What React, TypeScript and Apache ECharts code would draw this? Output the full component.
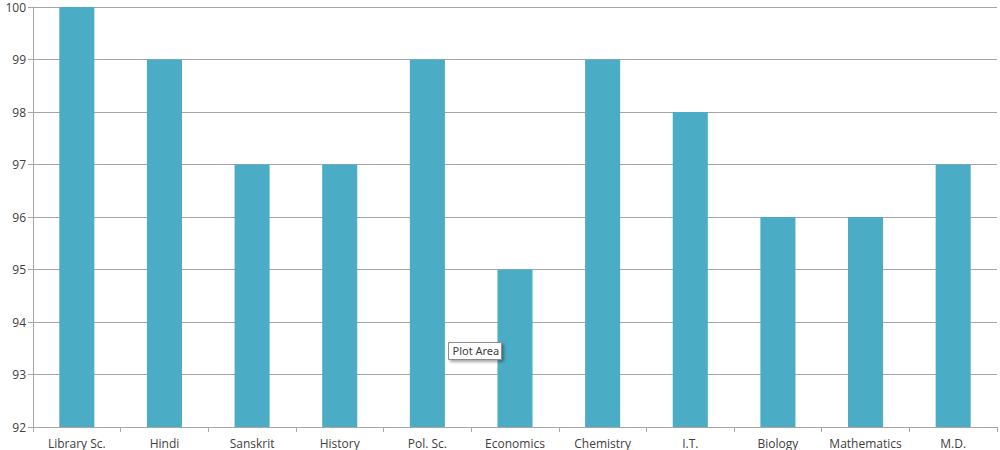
import React, { useEffect, useRef } from "react";
import * as echarts from "echarts";

const categories = ["Library Sc.", "Hindi", "Sanskrit", "History", "Pol. Sc.", "Economics", "Chemistry", "I.T.", "Biology", "Mathematics", "M.D."];
const values = [100, 99, 97, 97, 99, 95, 99, 98, 96, 96, 97];
const yMin = 92;
const yMax = 100;

export default function App() {
  const ref = useRef<HTMLDivElement>(null);
  useEffect(() => {
    if (!ref.current) return;
    const chart = echarts.init(ref.current, null, { renderer: "svg" });
    chart.setOption({
      animation: false,
      backgroundColor: "#ffffff",
      grid: { left: 33, right: 3, top: 7, bottom: 23, containLabel: false },
      xAxis: {
        type: "category",
        data: categories,
        axisLine: { show: true, lineStyle: { color: "#a6a6a6", width: 1 } },
        axisTick: { show: true, length: 5, interval: 0, alignWithLabel: false, lineStyle: { color: "#a6a6a6" } },
        axisLabel: { color: "#404040", fontSize: 12, fontFamily: "Open Sans", margin: 10, interval: 0 },
      },
      yAxis: {
        type: "value",
        min: yMin,
        max: yMax,
        interval: 1,
        axisLine: { show: true, lineStyle: { color: "#a6a6a6" } },
        axisTick: { show: true, length: 5, lineStyle: { color: "#a6a6a6" } },
        axisLabel: { color: "#404040", fontSize: 12, fontFamily: "Open Sans", margin: 7 },
        splitLine: { show: true, lineStyle: { color: "#a6a6a6", width: 1 } },
      },
      series: [
        {
          type: "bar",
          data: values,
          barWidth: "40%",
          itemStyle: { color: "#4bacc6" },
        },
      ],
      graphic: [
        {
          type: "group",
          left: 448,
          top: 342,
          z: 100,
          children: [
            {
              type: "rect",
              z: 100,
              shape: { x: 0, y: 0, width: 53, height: 17 },
              style: { fill: "#ffffff", stroke: "#8c8c8c", lineWidth: 1, shadowBlur: 3, shadowOffsetX: 2, shadowOffsetY: 2, shadowColor: "rgba(0,0,0,0.35)" },
            },
            {
              type: "text",
              z: 101,
              x: 4,
              y: 2,
              style: { text: "Plot Area", fill: "#404040", fontSize: 11, fontFamily: "Noto Sans" },
            },
          ],
        },
      ],
    });
    return () => chart.dispose();
  }, []);
  return <div ref={ref} style={{ position: "fixed", left: 0, top: 0, width: 1000, height: 450 }} />;
}
